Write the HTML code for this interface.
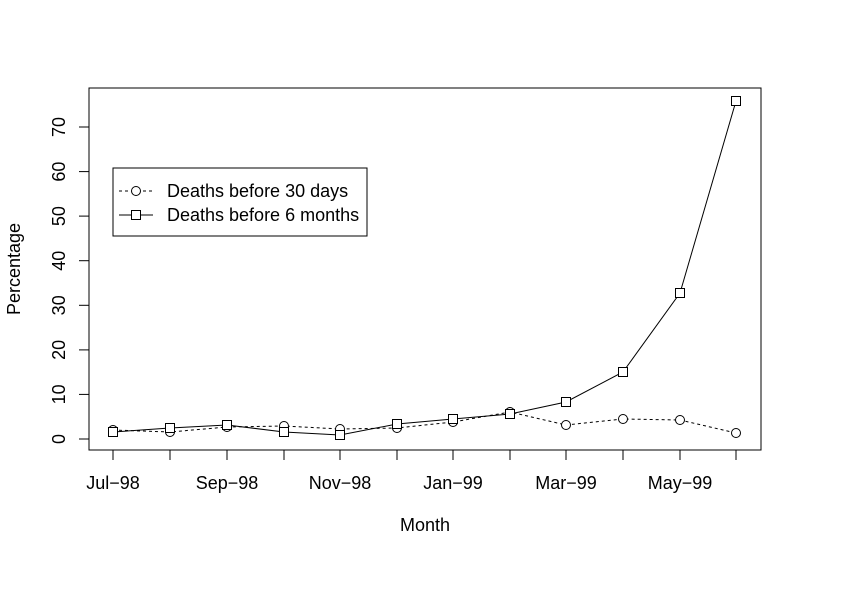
<!DOCTYPE html>
<html><head><style>body{margin:0;background:#fff}svg{display:block}text{font-family:"Liberation Sans",sans-serif;font-size:18px;fill:#000}</style></head><body>
<svg width="841" height="595" xmlns="http://www.w3.org/2000/svg">
<rect x="89" y="88" width="672" height="362" fill="none" stroke="#000"/>
<g stroke="#000">
<line x1="113" y1="450" x2="736" y2="450"/>
<line x1="113" y1="450" x2="113" y2="460"/><line x1="170" y1="450" x2="170" y2="460"/><line x1="227" y1="450" x2="227" y2="460"/><line x1="284" y1="450" x2="284" y2="460"/><line x1="340" y1="450" x2="340" y2="460"/><line x1="397" y1="450" x2="397" y2="460"/><line x1="453" y1="450" x2="453" y2="460"/><line x1="510" y1="450" x2="510" y2="460"/><line x1="566" y1="450" x2="566" y2="460"/><line x1="623" y1="450" x2="623" y2="460"/><line x1="680" y1="450" x2="680" y2="460"/><line x1="736" y1="450" x2="736" y2="460"/>
<line x1="89" y1="439" x2="89" y2="127"/>
<line x1="79" y1="439" x2="89" y2="439"/><line x1="79" y1="394.4" x2="89" y2="394.4"/><line x1="79" y1="349.9" x2="89" y2="349.9"/><line x1="79" y1="305.3" x2="89" y2="305.3"/><line x1="79" y1="260.7" x2="89" y2="260.7"/><line x1="79" y1="216.1" x2="89" y2="216.1"/><line x1="79" y1="171.6" x2="89" y2="171.6"/><line x1="79" y1="127" x2="89" y2="127"/>
</g>
<g text-anchor="middle">
<text x="113" y="489">Jul−98</text><text x="227" y="489">Sep−98</text><text x="340" y="489">Nov−98</text><text x="453" y="489">Jan−99</text><text x="566" y="489">Mar−99</text><text x="680" y="489">May−99</text>
<text x="425" y="531">Month</text>
</g>
<g text-anchor="middle">
<text transform="translate(65,439) rotate(-90)">0</text><text transform="translate(65,394.4) rotate(-90)">10</text><text transform="translate(65,349.9) rotate(-90)">20</text><text transform="translate(65,305.3) rotate(-90)">30</text><text transform="translate(65,260.7) rotate(-90)">40</text><text transform="translate(65,216.1) rotate(-90)">50</text><text transform="translate(65,171.6) rotate(-90)">60</text><text transform="translate(65,127) rotate(-90)">70</text>
<text transform="translate(20,269) rotate(-90)">Percentage</text>
</g>
<polyline fill="none" stroke="#000" stroke-dasharray="3,3" points="113,430 170,432 227,427 284,426 340,429 397,428 453,422 510,412 566,425 623,419 680,420 736,433"/>
<polyline fill="none" stroke="#000" points="113,432 170,428 227,425 284,432 340,435 397,424 453,419 510,414 566,402 623,372 680,293 736,101"/>
<g fill="#fff" stroke="#000">
<circle cx="113" cy="430" r="4.5"/><circle cx="170" cy="432" r="4.5"/><circle cx="227" cy="427" r="4.5"/><circle cx="284" cy="426" r="4.5"/><circle cx="340" cy="429" r="4.5"/><circle cx="397" cy="428" r="4.5"/><circle cx="453" cy="422" r="4.5"/><circle cx="510" cy="412" r="4.5"/><circle cx="566" cy="425" r="4.5"/><circle cx="623" cy="419" r="4.5"/><circle cx="680" cy="420" r="4.5"/><circle cx="736" cy="433" r="4.5"/>
<rect x="108.5" y="427.5" width="9" height="9"/><rect x="165.5" y="423.5" width="9" height="9"/><rect x="222.5" y="420.5" width="9" height="9"/><rect x="279.5" y="427.5" width="9" height="9"/><rect x="335.5" y="430.5" width="9" height="9"/><rect x="392.5" y="419.5" width="9" height="9"/><rect x="448.5" y="414.5" width="9" height="9"/><rect x="505.5" y="409.5" width="9" height="9"/><rect x="561.5" y="397.5" width="9" height="9"/><rect x="618.5" y="367.5" width="9" height="9"/><rect x="675.5" y="288.5" width="9" height="9"/><rect x="731.5" y="96.5" width="9" height="9"/>
</g>
<rect x="113" y="168" width="254" height="68" fill="#fff" stroke="#000"/>
<line x1="119" y1="191" x2="153" y2="191" stroke="#000" stroke-dasharray="3,3"/>
<circle cx="136" cy="191" r="4.5" fill="#fff" stroke="#000"/>
<line x1="119" y1="215" x2="153" y2="215" stroke="#000"/>
<rect x="131.5" y="210.5" width="9" height="9" fill="#fff" stroke="#000"/>
<text x="167" y="197">Deaths before 30 days</text>
<text x="167" y="221">Deaths before 6 months</text>
</svg>
</body></html>
